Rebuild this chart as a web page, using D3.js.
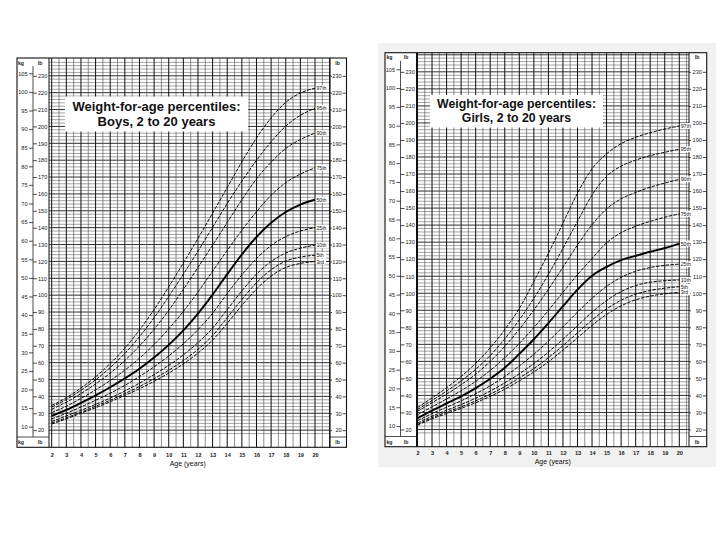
<!DOCTYPE html>
<html><head><meta charset="utf-8">
<script src="https://cdn.jsdelivr.net/npm/d3@7"></script>
<style>
body{margin:0;background:#fff;}
svg{display:block;font-family:"Liberation Sans",Arial,sans-serif;}
</style>
</head><body>
<svg id="c" width="720" height="540"></svg>
<script>
// ---------- data (kg) ----------
const ages = [2,3,4,5,6,7,8,9,10,11,12,13,14,15,16,17,18,19,20];
const percentileLabels = ["3rd","5th","10th","25th","50th","75th","90th","95th","97th"];

const boysP3  = [10.7,12.1,13.6,15.1,16.7,18.4,20.2,22.2,24.4,26.9,29.8,33.3,37.8,42.6,47.0,50.5,52.8,53.9,54.4];
const boysP5  = [11.0,12.4,13.9,15.5,17.1,18.9,20.8,22.9,25.2,27.8,30.8,34.5,39.3,44.2,48.7,52.2,54.5,55.6,56.1];
const boysP10 = [11.4,12.9,14.4,16.0,17.7,19.6,21.7,24.0,26.5,29.3,32.6,36.5,41.5,46.5,51.0,54.4,56.7,58.0,58.8];
const boysP25 = [12.1,13.6,15.3,17.1,19.0,21.1,23.5,26.1,29.0,32.3,36.1,40.5,45.8,50.8,55.2,58.7,61.1,62.6,63.5];
const boysP50 = [12.9,14.5,16.4,18.4,20.6,23.0,25.6,28.6,32.0,35.9,40.4,45.5,51.0,56.3,61.0,64.8,67.7,69.7,71.0];
const boysP75 = [13.8,15.5,17.6,19.9,22.4,25.2,28.4,32.1,36.3,41.0,46.2,51.8,57.4,62.8,67.8,72.2,75.6,77.9,79.6];
const boysP90 = [14.7,16.6,18.9,21.5,24.4,27.8,31.7,36.2,41.3,46.9,52.8,58.8,64.9,71.0,76.6,81.1,84.8,87.2,88.9];
const boysP95 = [15.3,17.3,19.8,22.6,25.9,29.7,34.2,39.3,45.0,51.0,57.2,63.6,70.0,76.0,81.6,86.6,90.8,93.7,95.6];
const boysP97 = [15.7,17.8,20.4,23.4,27.0,31.1,36.0,41.5,47.6,54.0,60.6,67.4,74.3,81.2,87.6,93.0,97.2,99.7,101.0];

const girlsP3  = [10.2,11.9,13.3,14.7,16.2,17.9,19.8,22.0,24.4,27.1,30.2,33.5,36.8,39.7,42.0,43.6,44.6,45.2,45.6];
const girlsP5  = [10.4,12.2,13.7,15.1,16.7,18.5,20.5,22.8,25.3,28.2,31.4,34.8,38.2,41.2,43.5,45.1,46.1,46.7,47.1];
const girlsP10 = [10.8,12.6,14.2,15.7,17.4,19.3,21.5,23.9,26.6,29.7,33.1,36.7,40.3,43.4,45.8,47.4,48.3,48.7,48.9];
const girlsP25 = [11.4,13.3,15.0,16.7,18.6,20.7,23.2,26.0,29.1,32.6,36.4,40.3,44.0,47.2,49.6,51.2,52.2,52.8,53.1];
const girlsP50 = [12.1,14.1,16.0,17.9,20.1,22.6,25.5,29.2,33.1,37.4,41.9,46.3,50.0,52.4,54.2,55.3,56.4,57.4,58.6];
const girlsP75 = [13.0,15.1,17.2,19.4,21.9,24.8,28.2,32.0,36.2,40.8,45.6,50.3,54.6,58.8,61.5,63.2,64.5,65.6,66.5];
const girlsP90 = [13.9,16.2,18.5,21.0,23.8,27.2,31.2,35.8,40.9,46.4,52.3,58.2,63.6,67.8,70.5,72.2,73.6,74.7,75.7];
const girlsP95 = [14.4,16.8,19.3,22.0,25.1,28.8,33.2,38.3,44.0,50.4,57.3,64.5,71.5,76.5,79.2,80.8,82.0,82.9,83.7];
const girlsP97 = [14.9,17.5,20.2,23.2,26.7,30.8,35.7,41.3,48.5,56.0,64.0,72.0,78.5,82.5,85.2,86.9,88.1,89.1,89.9];

const kgTicks = [10,15,20,25,30,35,40,45,50,55,60,65,70,75,80,85,90,95,100,105];
const lbTicks = [20,30,40,50,60,70,80,90,100,110,120,130,140,150,160,170,180,190,200,210,220,230];
const ageTicks = [2,3,4,5,6,7,8,9,10,11,12,13,14,15,16,17,18,19,20];

const boysSeries  = [boysP3,boysP5,boysP10,boysP25,boysP50,boysP75,boysP90,boysP95,boysP97];
const girlsSeries = [girlsP3,girlsP5,girlsP10,girlsP25,girlsP50,girlsP75,girlsP90,girlsP95,girlsP97];

// ---------- layout ----------
const LB = 0.45359237;
const svg = d3.select("#c");

// light gray page behind girls chart
svg.append("rect").attr("x",378).attr("y",43).attr("width",338).attr("height",424).attr("fill","#f1f1f1");

function drawChart(cfg, series, titleLines){
  const g = svg.append("g");
  const [fx0,fy0,fx1,fy1] = cfg.frame;
  const x = d3.scaleLinear().domain([2,20]).range([cfg.x2,cfg.x20]);
  const y = d3.scaleLinear().domain([10,105]).range([cfg.y10,cfg.y105]);
  const yLb = d3.scaleLinear().domain([20,230]).range([y(20*LB),y(230*LB)]);

  g.append("rect").attr("x",fx0).attr("y",fy0).attr("width",fx1-fx0).attr("height",fy1-fy0).attr("fill","#fff");

  // horizontal grid (every 2 lb, heavier every 10 lb)
  const hg = g.append("g");
  d3.range(10,242,2).forEach(lb=>{
    const yy = yLb(lb);
    if (yy < fy0+1 || yy > cfg.rowY-0.5) return;
    const major = lb % 10 === 0;
    hg.append("line").attr("x1",cfg.gridL).attr("x2",cfg.gridR).attr("y1",yy).attr("y2",yy)
      .attr("stroke", major ? "#1a1a1a" : "#5a5a5a").attr("stroke-width", major ? 0.9 : 0.55);
  });
  // vertical grid (every half year)
  const vg = g.append("g");
  d3.range(2,21.01,0.5).forEach(a=>{
    const xx = x(a);
    if (xx > cfg.gridR+0.5) return;
    const major = a % 1 === 0;
    vg.append("line").attr("x1",xx).attr("x2",xx).attr("y1",fy0).attr("y2",fy1)
      .attr("stroke", major ? "#111" : "#444").attr("stroke-width", major ? 1.0 : 0.6);
  });
  [cfg.gridL,cfg.gridR].forEach(xx=>{
    g.append("line").attr("x1",xx).attr("x2",xx).attr("y1",fy0).attr("y2",fy1).attr("stroke","#111").attr("stroke-width",1);
  });

  // left axes column
  g.append("line").attr("x1",cfg.axisX).attr("x2",cfg.axisX).attr("y1",fy0+8).attr("y2",cfg.rowY).attr("stroke","#222").attr("stroke-width",0.8);
  const kgAxis = d3.axisLeft(y).tickValues(kgTicks).tickSize(4).tickPadding(1.5).tickFormat(d3.format("d"));
  const lbAxis = d3.axisRight(yLb).tickValues(lbTicks).tickSize(4).tickPadding(1).tickFormat(d3.format("d"));
  const lbAxisR = d3.axisLeft(yLb).tickValues(lbTicks).tickSize(3.5).tickPadding(0.8).tickFormat(d3.format("d"));
  const ax1 = g.append("g").attr("transform",`translate(${cfg.axisX},0)`).call(kgAxis);
  const ax2 = g.append("g").attr("transform",`translate(${cfg.axisX},0)`).call(lbAxis);
  const ax3 = g.append("g").attr("transform",`translate(${fx1-0.5},0)`).call(lbAxisR);
  [ax1,ax2,ax3].forEach(a=>{
    a.select(".domain").remove();
    a.selectAll("text").attr("font-size",5.6).attr("fill","#222").attr("font-family","Liberation Sans, Arial, sans-serif");
    a.selectAll("line").attr("stroke","#222").attr("stroke-width",0.8);
  });
  // left dash on right-column labels
  ax3.selectAll(".tick").append("line").attr("x1",-(fx1-cfg.gridR)+0.5).attr("x2",-(fx1-cfg.gridR)+2.5).attr("stroke","#222").attr("stroke-width",0.8);

  // unit labels
  const unit = (t,xx,yy)=>g.append("text").attr("x",xx).attr("y",yy).attr("text-anchor","middle")
     .attr("dominant-baseline","central").attr("font-size",5.2).attr("font-weight","bold").attr("fill","#222").text(t);
  unit("kg",cfg.kgX,fy0+4.5); unit("lb",cfg.lbX,fy0+4.5); unit("lb",cfg.rlbX,fy0+4.5);
  unit("kg",cfg.kgX,(cfg.rowY+fy1)/2); unit("lb",cfg.lbX,(cfg.rowY+fy1)/2); unit("lb",cfg.rlbX,(cfg.rowY+fy1)/2);
  g.append("line").attr("x1",fx0).attr("x2",cfg.gridL).attr("y1",cfg.rowY).attr("y2",cfg.rowY).attr("stroke","#222").attr("stroke-width",0.8);
  g.append("line").attr("x1",cfg.gridR).attr("x2",fx1).attr("y1",cfg.rowY).attr("y2",cfg.rowY).attr("stroke","#222").attr("stroke-width",0.8);

  // title box
  const tb = cfg.title;
  g.append("rect").attr("x",tb[0]).attr("y",tb[1]).attr("width",tb[2]-tb[0]).attr("height",tb[3]-tb[1]).attr("fill","#fff");
  titleLines.forEach((t,i)=>{
    g.append("text").attr("x",(tb[0]+tb[2])/2).attr("y",cfg.titleY[i]).attr("text-anchor","middle")
     .attr("dominant-baseline","central").attr("font-size",cfg.titleSize).attr("font-weight","bold").attr("fill","#111").text(t);
  });

  // curves
  const line = d3.line().x((d,i)=>x(ages[i])).y(d=>y(d)).curve(d3.curveMonotoneX);
  series.forEach((s,k)=>{
    const bold = percentileLabels[k]==="50th";
    g.append("path").attr("d",line(s)).attr("fill","none").attr("stroke","#000")
      .attr("stroke-width", bold ? 1.9 : 0.95)
      .attr("stroke-dasharray", bold ? null : "3.5,1.3");
  });
  // percentile labels
  series.forEach((s,k)=>{
    const yy = y(s[s.length-1]);
    const lab = percentileLabels[k];
    const w = lab.length*2.9+1.5;
    g.append("rect").attr("x",x(20)+0.8).attr("y",yy-3).attr("width",w).attr("height",6).attr("fill","#fff");
    g.append("text").attr("x",x(20)+1.4).attr("y",yy).attr("dominant-baseline","central")
      .attr("font-size",5.2).attr("fill","#111").text(lab);
  });

  // frame
  g.append("rect").attr("x",fx0).attr("y",fy0).attr("width",fx1-fx0).attr("height",fy1-fy0)
    .attr("fill","none").attr("stroke","#111").attr("stroke-width",1.1);

  // age axis
  const ageAxis = d3.axisBottom(x).tickValues(ageTicks).tickSize(0).tickPadding(cfg.agePad).tickFormat(d3.format("d"));
  const ax4 = g.append("g").attr("transform",`translate(0,${fy1})`).call(ageAxis);
  ax4.select(".domain").remove();
  ax4.selectAll("text").attr("font-size",5.6).attr("fill","#222").attr("font-weight","bold").attr("font-family","Liberation Sans, Arial, sans-serif");
  g.append("text").attr("x",x(11.3)).attr("y",cfg.ageTitleY).attr("text-anchor","middle").attr("dominant-baseline","central")
    .attr("font-size",7).attr("fill","#111").text("Age (years)");
}

drawChart({
  frame:[17,58,346.5,447.3], x2:51.7, x20:315, y10:426.7, y105:73.3,
  gridL:49, gridR:330, axisX:33, rowY:437, kgX:21, lbX:40, rlbX:337.5,
  title:[65,96.5,248,131.5], titleY:[106.5,121.5], titleSize:13,
  agePad:5.5, ageTitleY:463.5
}, boysSeries, ["Weight-for-age percentiles:","Boys, 2 to 20 years"]);

drawChart({
  frame:[385,52.7,706.7,446.7], x2:417.5, x20:679.3, y10:426, y105:69.3,
  gridL:416.5, gridR:689, axisX:400.5, rowY:436.5, kgX:389.5, lbX:406, rlbX:697,
  title:[430,95,603,127.5], titleY:[103.5,117.8], titleSize:12.3,
  agePad:4.5, ageTitleY:461
}, girlsSeries, ["Weight-for-age percentiles:","Girls, 2 to 20 years"]);
</script>
</body></html>
